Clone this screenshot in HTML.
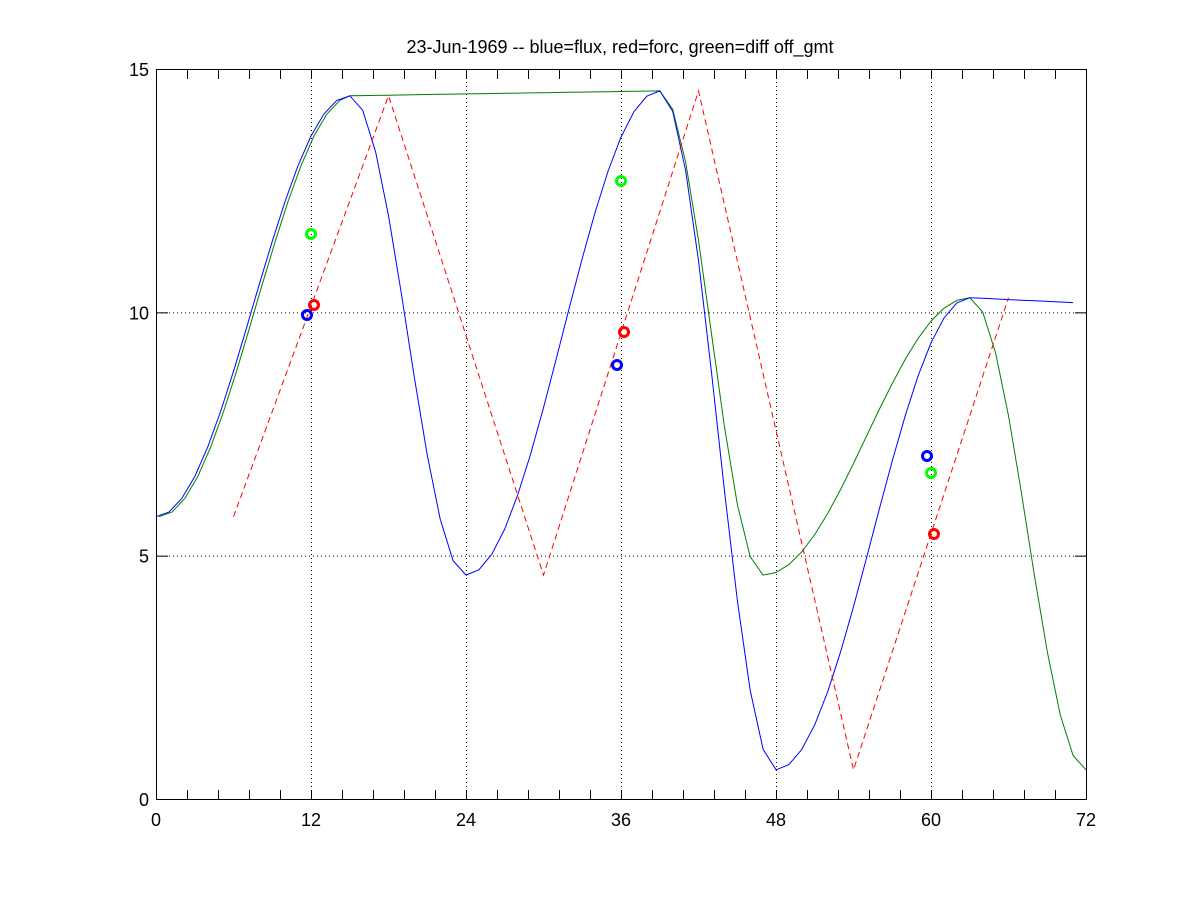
<!DOCTYPE html>
<html><head><meta charset="utf-8"><style>body{margin:0;background:#fff}svg{display:block}</style></head>
<body>
<svg id="s" width="1200" height="900" xmlns="http://www.w3.org/2000/svg" font-family="Liberation Sans, sans-serif" font-size="18">
<rect width="1200" height="900" fill="#fff"/>
<text x="620" y="53" text-anchor="middle" font-size="18">23-Jun-1969 -- blue=flux, red=forc, green=diff off_gmt</text>
<g id="grid" stroke="#000" stroke-width="1" stroke-dasharray="1,3"></g>
<g id="ticks" stroke="#000" stroke-width="1"></g>
<g id="lab" font-size="18"></g>
<g id="ser" fill="none"></g>
<rect x="156.5" y="69.5" width="930" height="730" fill="none" stroke="#000" stroke-width="1"/>
</svg>
<script>
const X=x=>156+x*930/72, Y=y=>799-y*730/15;
const ns="http://www.w3.org/2000/svg";
function el(p,t,a,txt){const e=document.createElementNS(ns,t);for(const k in a)e.setAttribute(k,a[k]);if(txt!==undefined)e.textContent=txt;document.getElementById(p).appendChild(e);}
[12,24,36,48,60].forEach(v=>el('grid','line',{x1:X(v)+.5,x2:X(v)+.5,y1:70,y2:799}));
[5,10].forEach(v=>el('grid','line',{x1:157,x2:1086,y1:Y(v)+.5,y2:Y(v)+.5}));
for(let i=1;i<30;i++){const x=X(i*2.4)+.5;el('ticks','line',{x1:x,x2:x,y1:799,y2:790});el('ticks','line',{x1:x,x2:x,y1:70,y2:79});}
[5,10].forEach(i=>{const y=Y(i)+.5;el('ticks','line',{x1:157,x2:168,y1:y,y2:y});el('ticks','line',{x1:1086,x2:1075,y1:y,y2:y});});
[0,12,24,36,48,60,72].forEach(v=>el('lab','text',{x:X(v),y:826,'text-anchor':'middle'},v));
[0,5,10,15].forEach(v=>el('lab','text',{x:149,y:Y(v)+7,'text-anchor':'end'},v));
function build(segs,shift){
 const pts=[];
 for(let x=0;x<=72;x++){
  for(const s of segs){ if(x>=s[0]&&x<=s[2]){const t=(x-s[0])/(s[2]-s[0]);const f=s[4]==='l'?t:(1-Math.cos(Math.PI*t))/2;pts.push([x,s[1]+(s[3]-s[1])*f]);break;} }
 }
 return pts.map(p=>(X(p[0])+(shift&&p[0]<15?shift:0)).toFixed(1)+','+Y(p[1]).toFixed(1)).join(' ');
}
const blue=[[0,5.8,15,14.45],[15,14.45,24,4.6],[24,4.6,39,14.55],[39,14.55,48,0.6],[48,0.6,63,10.3],[63,10.3,71,10.2,'l']];
const green=[[0,5.8,15,14.45],[15,14.45,39,14.55,'l'],[39,14.55,47,4.6],[47,4.6,63,10.3],[63,10.3,72,0.6]];
el('ser','polyline',{points:build(green,3),stroke:'#007f00','stroke-width':1});
el('ser','polyline',{points:build(blue,0),stroke:'#0000ff','stroke-width':1});
const red=[[6,5.8],[18,14.45],[30,4.6],[42,14.55],[54,0.6],[66,10.3]].map(p=>X(p[0])+','+Y(p[1])).join(' ');
el('ser','polyline',{points:red,stroke:'#ff0000','stroke-width':1,'stroke-dasharray':'6,4'});
[[307,315,'#0000ff'],[314,305,'#ff0000'],[311,234,'#00ff00'],[617,365,'#0000ff'],[624,332,'#ff0000'],[621,181,'#00ff00'],[927,456,'#0000ff'],[931,473,'#00ff00'],[934,534,'#ff0000']].forEach(c=>el('ser','circle',{cx:c[0],cy:c[1],r:4.5,stroke:c[2],'stroke-width':3}));
</script>
</body></html>
